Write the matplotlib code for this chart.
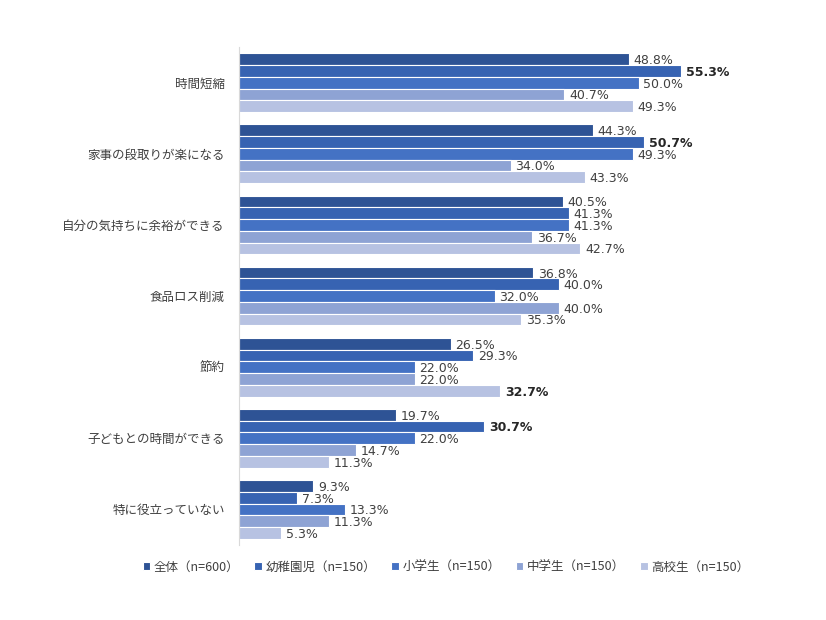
import numpy as np
import matplotlib.pyplot as plt

plt.rcParams['font.family'] = ['Noto Sans CJK JP', 'DejaVu Sans']

categories = ["時間短縮", "家事の段取りが楽になる", "自分の気持ちに余裕ができる",
              "食品ロス削減", "節約", "子どもとの時間ができる", "特に役立っていない"]
series_names = ["全体（n=600）", "幼稚園児（n=150）", "小学生（n=150）",
                "中学生（n=150）", "高校生（n=150）"]
zentai = [48.8, 44.3, 40.5, 36.8, 26.5, 19.7, 9.3]
youchien = [55.3, 50.7, 41.3, 40.0, 29.3, 30.7, 7.3]
shougaku = [50.0, 49.3, 41.3, 32.0, 22.0, 22.0, 13.3]
chuugaku = [40.7, 34.0, 36.7, 40.0, 22.0, 14.7, 11.3]
koukou = [49.3, 43.3, 42.7, 35.3, 32.7, 11.3, 5.3]
bold_labels = {(0, 1), (1, 1), (4, 4), (5, 1)}  # (category, series)

colors = ["#2E5395", "#3763B2", "#4472C4", "#8EA3D4", "#B7C2E2"]
series = [zentai, youchien, shougaku, chuugaku, koukou]

fig = plt.figure(figsize=(8.26, 6.2), dpi=100)
ax = fig.add_axes([0.289, 0.121, 0.581, 0.803])

y = np.arange(len(categories))
step = 0.165
for i, (vals, col) in enumerate(zip(series, colors)):
    pos = y + (i - 2) * step
    ax.barh(pos, vals, height=step, color=col, edgecolor="white", linewidth=0.8,
            label=series_names[i])
    for c, (p, v) in enumerate(zip(pos, vals)):
        bold = (c, i) in bold_labels
        ax.text(v + 0.6, p + 0.02, f"{v:.1f}%", va="center", ha="left", fontsize=9,
                family="DejaVu Sans",
                color="#262626" if bold else "#404040",
                fontweight="bold" if bold else "normal")

ax.set_xlim(0, 60)
ax.set_ylim(len(categories) - 0.5, -0.5)
ax.set_yticks(y)
ax.set_yticklabels(categories, fontsize=9, color="#404040")
ax.tick_params(axis="y", length=0, pad=10)
ax.set_xticks([])
for s in ["top", "right", "bottom"]:
    ax.spines[s].set_visible(False)
ax.spines["left"].set_color("#D9D9D9")

fig.legend(loc="center", bbox_to_anchor=(0.54, 0.085), ncol=5, frameon=False,
           fontsize=9, handlelength=0.6, handleheight=0.6, handletextpad=0.3,
           columnspacing=1.2, labelcolor="#404040")

fig.savefig("out.png", dpi=100)
